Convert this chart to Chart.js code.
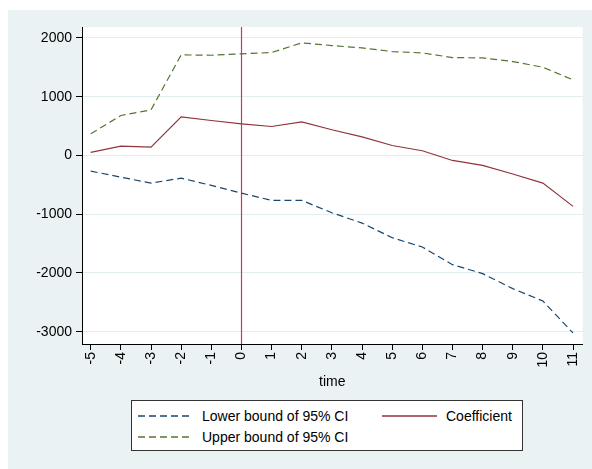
<!DOCTYPE html>
<html lang="en">
<head>
<meta charset="UTF-8">
<title>Coefficient with 95% CI over time</title>
<script src="https://cdn.jsdelivr.net/npm/chart.js"></script>
<style>
    body {
        margin: 0;
        background: #fff;
        font-family: "Liberation Sans", Arial, sans-serif;
    }
    .frame {
        position: absolute;
        left: 8px;
        top: 10px;
        width: 584px;
        height: 459px;
        background: #eaf2f3;
    }
    .plot {
        position: absolute;
        left: 0;
        top: 0;
        width: 584px;
        height: 381px;
    }
    .legend {
        position: absolute;
        left: 123px;
        top: 390px;
        width: 392px;
        height: 51px;
        box-sizing: border-box;
        border: 1px solid #333;
        background: #fff;
        font-size: 14px;
        color: #000;
    }
    .item {
        position: absolute;
        display: flex;
        align-items: center;
        height: 16px;
        line-height: 16px;
        white-space: nowrap;
    }
    .item span { margin-left: 9px; }
</style>
</head>
<body>
<div class="frame">
    <div class="plot"><canvas id="chart"></canvas></div>
    <div class="legend">
        <div class="item" style="left:6px; top:7px;">
            <svg width="55" height="4"><line x1="0" y1="2" x2="55" y2="2" stroke="#1a476f" stroke-width="1.3" stroke-dasharray="7 4"/></svg>
            <span>Lower bound of 95% CI</span>
        </div>
        <div class="item" style="left:250px; top:7px;">
            <svg width="55" height="4"><line x1="0" y1="2" x2="55" y2="2" stroke="#90353b" stroke-width="1.3"/></svg>
            <span>Coefficient</span>
        </div>
        <div class="item" style="left:6px; top:28px;">
            <svg width="55" height="4"><line x1="0" y1="2" x2="55" y2="2" stroke="#55752f" stroke-width="1.3" stroke-dasharray="7 4"/></svg>
            <span>Upper bound of 95% CI</span>
        </div>
    </div>
</div>
<script>
    // values
    const time = [-5, -4, -3, -2, -1, 0, 1, 2, 3, 4, 5, 6, 7, 8, 9, 10, 11];
    const lowerCI = [-267, -369, -471, -386, -510, -641, -765, -765, -975, -1151, -1400, -1559, -1859, -2012, -2267, -2478, -3022];
    const coef = [51, 158, 141, 658, 595, 539, 493, 573, 437, 315, 170, 80, -85, -170, -315, -471, -867];
    const upperCI = [369, 680, 777, 1712, 1706, 1730, 1752, 1917, 1871, 1831, 1769, 1746, 1667, 1661, 1599, 1502, 1287];

    const xTicks = time;
    const yTicks = [-3000, -2000, -1000, 0, 1000, 2000];
    const eventTime = 0;

    const plotBackground = {
        id: 'plotBackground',
        beforeDraw(chart) {
            const { ctx, chartArea: a } = chart;
            ctx.save();
            ctx.fillStyle = '#fff';
            ctx.fillRect(a.left, a.top, a.right - a.left, a.bottom - a.top);
            ctx.restore();
        },
        beforeDatasetsDraw(chart) {
            // vertical line at the event time
            const { ctx, chartArea: a } = chart;
            const x = Math.round(chart.scales.x.getPixelForValue(eventTime)) + 0.5;
            ctx.save();
            ctx.strokeStyle = '#d8315b';
            ctx.lineWidth = 1.2;
            ctx.beginPath();
            ctx.moveTo(x, a.top);
            ctx.lineTo(x, a.bottom);
            ctx.stroke();
            ctx.restore();
        }
    };

    const toPoints = ys => ys.map((y, i) => ({ x: time[i], y: y }));
    const tickFont = { family: '"Liberation Sans", Arial, sans-serif', size: 14 };

    new Chart(document.getElementById('chart'), {
        type: 'line',
        data: {
            datasets: [{
                label: 'Lower bound of 95% CI',
                data: toPoints(lowerCI),
                borderColor: '#1a476f',
                borderDash: [7, 4]
            }, {
                label: 'Coefficient',
                data: toPoints(coef),
                borderColor: '#90353b'
            }, {
                label: 'Upper bound of 95% CI',
                data: toPoints(upperCI),
                borderColor: '#55752f',
                borderDash: [7, 4]
            }]
        },
        options: {
            responsive: true,
            maintainAspectRatio: false,
            animation: false,
            elements: {
                point: { radius: 0 },
                line: { borderWidth: 1.2, tension: 0, fill: false }
            },
            layout: { padding: { top: 17, right: 8, left: 0, bottom: 0 } },
            plugins: {
                legend: { display: false },
                tooltip: { enabled: false }
            },
            scales: {
                x: {
                    type: 'linear',
                    min: -5.29,
                    max: 11.32,
                    afterBuildTicks: s => { s.ticks = xTicks.map(v => ({ value: v })); },
                    afterFit: s => { s.height = 47; },
                    ticks: {
                        minRotation: 90,
                        maxRotation: 90,
                        autoSkip: false,
                        padding: 2,
                        color: '#000',
                        font: tickFont,
                        callback: v => String(v)
                    },
                    grid: { drawOnChartArea: false, tickColor: '#000', tickLength: 6 },
                    border: { color: '#000', width: 1 },
                    title: { display: true, text: 'time', color: '#000', font: tickFont, padding: 0 }
                },
                y: {
                    min: -3210,
                    max: 2187,
                    afterBuildTicks: s => { s.ticks = yTicks.map(v => ({ value: v })); },
                    afterFit: s => { s.width = 74; },
                    ticks: {
                        padding: 4,
                        color: '#000',
                        font: tickFont,
                        callback: v => String(v)
                    },
                    grid: { color: '#e3edef', tickColor: '#000', tickLength: 6 },
                    border: { color: '#000', width: 1 }
                }
            }
        },
        plugins: [plotBackground]
    });
</script>
</body>
</html>
